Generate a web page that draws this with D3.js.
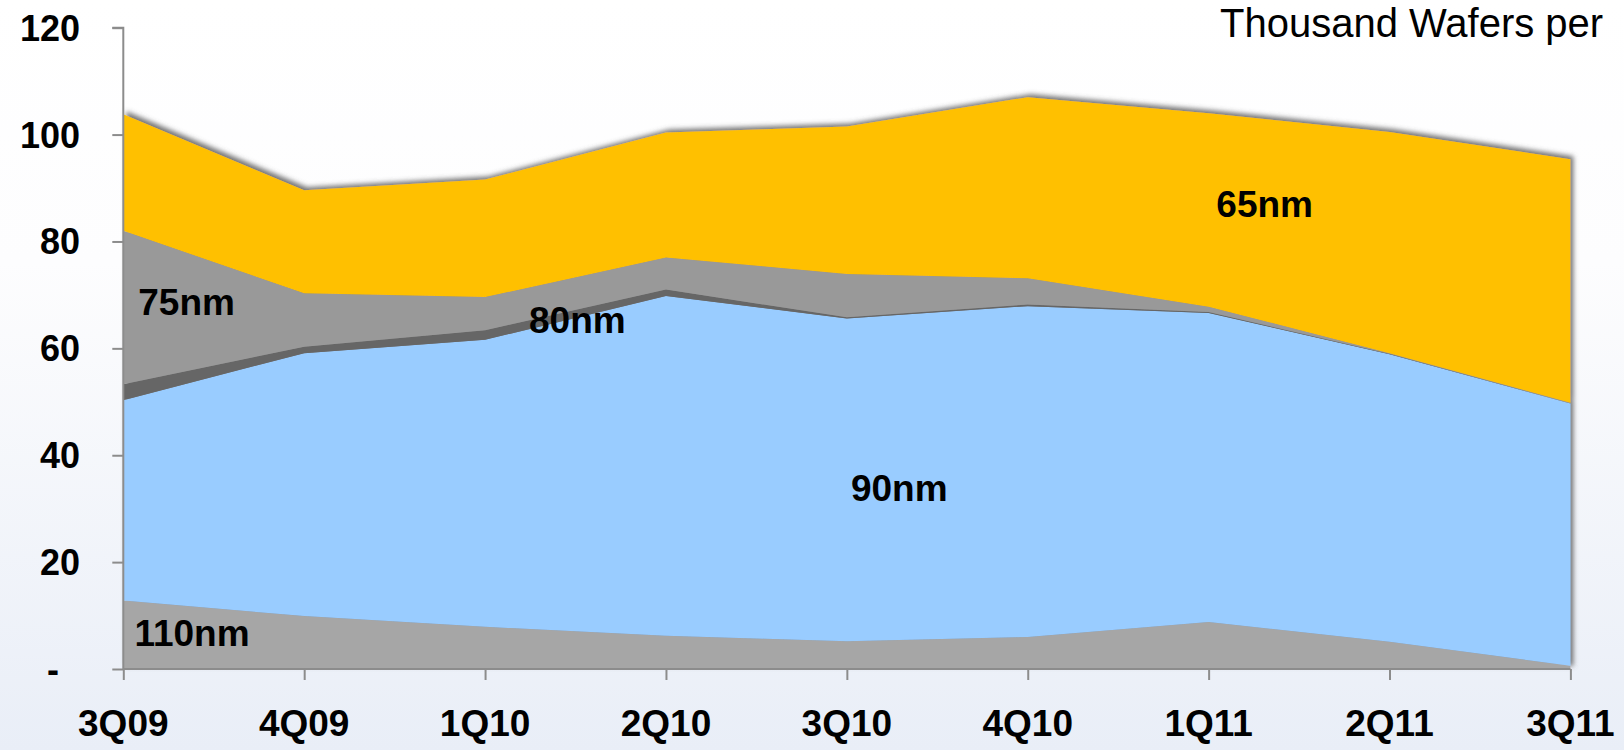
<!DOCTYPE html>
<html>
<head>
<meta charset="utf-8">
<script src="https://cdn.jsdelivr.net/npm/d3@7"></script>
<style>
  html, body { margin: 0; padding: 0; background: #ffffff; }
  svg { display: block; }
  text { font-family: "Liberation Sans", Arial, sans-serif; }
</style>
</head>
<body>
<svg id="chart" width="1624" height="750"></svg>
<script>
// ---- data ----
const categories = ["3Q09", "4Q09", "1Q10", "2Q10", "3Q10", "4Q10", "1Q11", "2Q11", "3Q11"];
const nm110 = [12.8, 9.9, 7.9, 6.2, 5.2, 6.0, 8.8, 5.1, 0.6];
const nm90  = [37.5, 49.2, 53.7, 63.6, 60.4, 61.9, 57.8, 53.8, 49.1];
const nm80  = [3.0, 1.2, 1.8, 1.2, 0.2, 0.3, 0.2, 0.1, 0.0];
const nm75  = [28.7, 10.0, 6.2, 6.0, 8.1, 4.9, 1.0, 0.1, 0.1];
const nm65  = [21.8, 19.3, 22.0, 23.4, 27.6, 33.9, 36.2, 41.4, 45.6];
const seriesNames = ["110nm", "90nm", "80nm", "75nm", "65nm"];
const yTicks = [0, 20, 40, 60, 80, 100, 120];
const yTickLabels = ["-", "20", "40", "60", "80", "100", "120"];
const unitTitle = "Thousand Wafers per";

// ---- build table ----
const seriesValues = [nm110, nm90, nm80, nm75, nm65];
const table = categories.map((c, i) => {
  const row = { cat: c };
  seriesNames.forEach((s, k) => row[s] = seriesValues[k][i]);
  return row;
});

const colors = { "110nm": "#A6A6A6", "90nm": "#99CCFF", "80nm": "#666666", "75nm": "#999999", "65nm": "#FFC000" };

const svg = d3.select("#chart");
const W = 1624, H = 750;

// background gradient
const defs = svg.append("defs");
const grad = defs.append("linearGradient").attr("id", "bg").attr("x1", 0).attr("y1", 0).attr("x2", 0).attr("y2", 1);
grad.append("stop").attr("offset", "0%").attr("stop-color", "#FFFFFF");
grad.append("stop").attr("offset", "35%").attr("stop-color", "#FDFDFE");
grad.append("stop").attr("offset", "100%").attr("stop-color", "#E9EEF7");
svg.append("rect").attr("width", W).attr("height", H).attr("fill", "url(#bg)");

const shadow = defs.append("filter").attr("id", "shadow")
  .attr("x", "-5%").attr("y", "-10%").attr("width", "110%").attr("height", "120%");
shadow.append("feDropShadow").attr("dx", 3).attr("dy", -3).attr("stdDeviation", 2.8)
  .attr("flood-color", "#555555").attr("flood-opacity", 0.8);

const x = d3.scalePoint().domain(categories).range([123.3, 1570.4]);
const y = d3.scaleLinear().domain([0, 120]).range([669, 27.7]);
const xi = i => x(categories[0]) + i * x.step();

const stack = d3.stack().keys(seriesNames);
const layers = stack(table);

const area = d3.area()
  .x(d => x(d.data.cat))
  .y0(d => y(d[0]))
  .y1(d => y(d[1]));

const gAreas = svg.append("g").attr("filter", "url(#shadow)");
gAreas.selectAll("path").data(layers).join("path")
  .attr("d", area)
  .attr("fill", d => colors[d.key]);

// axes
const axisColor = "#8C8C8C";
const yAxis = d3.axisLeft(y).tickValues(yTicks).tickSize(11).tickFormat("");
const gy = svg.append("g").attr("transform", `translate(${x(categories[0])},0)`).call(yAxis);
gy.select(".domain").attr("stroke", axisColor).attr("stroke-width", 2).attr("d", `M-11,${y(120)}H0V${y(0)}`);
gy.selectAll(".tick line").attr("stroke", axisColor).attr("stroke-width", 2);

const xAxis = d3.axisBottom(x).tickSize(11).tickFormat("");
const gx = svg.append("g").attr("transform", `translate(0,${y(0)})`).call(xAxis);
gx.select(".domain").attr("stroke", axisColor).attr("stroke-width", 2).attr("d", `M${x(categories[0])},0H${x(categories[categories.length-1])}`);
gx.selectAll(".tick line").attr("stroke", axisColor).attr("stroke-width", 2);

// y tick labels
svg.append("g").selectAll("text").data(yTicks).join("text")
  .attr("x", (d, i) => yTickLabels[i] === "-" ? 59 : 80)
  .attr("y", d => y(d))
  .attr("dy", "0.36em")
  .attr("text-anchor", "end")
  .attr("font-size", 36)
  .attr("font-weight", "bold")
  .attr("fill", "#000")
  .text((d, i) => yTickLabels[i]);

// x tick labels
svg.append("g").selectAll("text").data(categories).join("text")
  .attr("x", d => x(d))
  .attr("y", 736)
  .attr("text-anchor", "middle")
  .attr("font-size", 37)
  .attr("font-weight", "bold")
  .attr("fill", "#000")
  .text(d => d);

// series labels
const labelPos = [
  { key: "110nm", i: 0.38, v: 4.3 },
  { key: "90nm",  i: 4.29, v: 31.4 },
  { key: "80nm",  i: 2.51, v: 62.9 },
  { key: "75nm",  i: 0.35, v: 66.2 },
  { key: "65nm",  i: 6.31, v: 84.6 }
];
svg.append("g").selectAll("text").data(labelPos).join("text")
  .attr("x", d => xi(d.i))
  .attr("y", d => y(d.v))
  .attr("text-anchor", "middle")
  .attr("font-size", 37)
  .attr("font-weight", "bold")
  .attr("fill", "#000")
  .text(d => d.key);

// unit title
svg.append("text")
  .attr("x", 1220).attr("y", 37)
  .attr("font-size", 40)
  .attr("fill", "#000")
  .text(unitTitle);
</script>
</body>
</html>
